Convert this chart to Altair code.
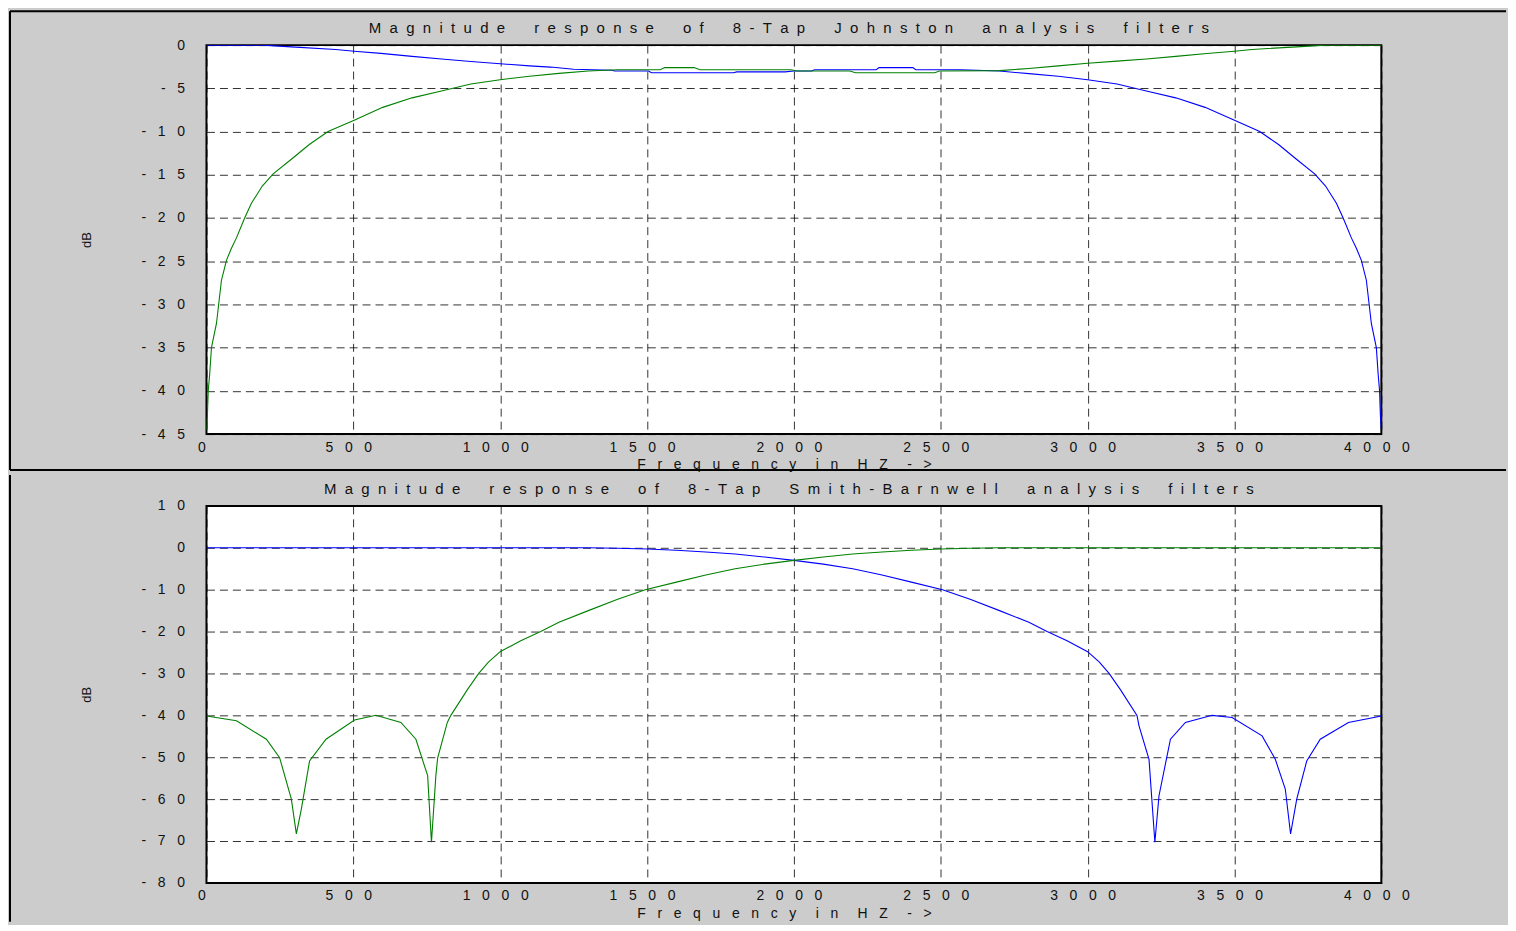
import altair as alt
import pandas as pd

# ---------------- data ----------------
# Top panel: 8-tap Johnston filters (dB)
top_lo_f = [0, 190, 289, 440, 503, 594, 700, 800, 900, 1000, 1100, 1171, 1250, 1380, 1390,
            1505, 1515, 1795, 1805, 1970, 2000, 2060, 2070, 2280, 2290, 2405, 2415, 2570,
            2700, 2800, 2900, 3000, 3100, 3200, 3300, 3400, 3500, 3586, 3650, 3711, 3773,
            3810, 3847, 3870, 3898, 3915, 3932, 3949, 3966, 3983, 3989, 3994, 3997, 4000]
top_lo_db = [0, 0, -0.2, -0.5, -0.7, -0.96, -1.3, -1.6, -1.9, -2.15, -2.4, -2.54, -2.8, -2.9, -3.0,
             -3.0, -3.2, -3.2, -3.1, -3.1, -3.0, -3.0, -2.85, -2.85, -2.6, -2.6, -2.85, -2.85,
             -3.0, -3.3, -3.6, -4.0, -4.5, -5.3, -6.1, -7.2, -8.7, -10.0, -11.5, -13.2, -14.9,
             -16.3, -18.3, -20.0, -22.3, -23.5, -24.9, -27.2, -32.2, -35.0, -38.0, -40.0, -43.0, -44.5]

top_hi_f = [0, 3, 6, 11, 17, 34, 51, 60, 68, 85, 102, 130, 153, 190, 227, 289, 350, 414, 503,
            600, 700, 800, 900, 1000, 1100, 1200, 1300, 1400, 1545, 1560, 1660, 1680, 1990,
            2010, 2190, 2210, 2480, 2495, 2700, 2800, 2900, 3000, 3100, 3200, 3300, 3406,
            3500, 3560, 3711, 3810, 4000]
top_hi_db = [-44.5, -43.0, -40.0, -38.0, -35.0, -32.2, -27.2, -26.0, -24.9, -23.5, -22.3, -20.0,
             -18.3, -16.3, -14.9, -13.2, -11.5, -10.0, -8.7, -7.2, -6.1, -5.3, -4.5, -4.0, -3.6,
             -3.27, -3.0, -2.85, -2.85, -2.6, -2.6, -2.85, -2.85, -3.0, -3.0, -3.2, -3.2, -3.0,
             -2.95, -2.7, -2.4, -2.1, -1.85, -1.6, -1.3, -0.96, -0.7, -0.5, -0.2, 0, 0]

# Bottom panel: 8-tap Smith-Barnwell filters (dB)
bot_lo_f = [0, 1300, 1400, 1500, 1600, 1700, 1800, 1900, 2000, 2100, 2200, 2300, 2400, 2506,
            2600, 2700, 2800, 2862, 2930, 3000, 3040, 3073, 3111, 3168, 3175, 3209, 3229, 3243,
            3282, 3333, 3424, 3492, 3594, 3639, 3673, 3691, 3712, 3746, 3792, 3888, 3996, 4000]
bot_lo_db = [0, 0, -0.1, -0.3, -0.6, -1.0, -1.5, -2.2, -3.0, -3.9, -5.0, -6.5, -8.2, -10.0,
             -12.3, -15.0, -17.8, -20.0, -22.2, -24.8, -27.3, -30.0, -33.8, -40.0, -42.5, -50.5,
             -70.3, -59.2, -45.7, -41.7, -40.0, -40.5, -44.9, -50.5, -57.6, -68.3, -60.0, -50.9,
             -45.7, -41.7, -40.2, -40.0]

bot_hi_f = [0, 6, 102, 204, 249, 289, 306, 323, 351, 407, 504, 577, 662, 713, 753, 766, 781,
            787, 820, 832, 889, 927, 960, 1000, 1070, 1138, 1200, 1300, 1400, 1494, 1600, 1700,
            1800, 1900, 2000, 2100, 2200, 2300, 2400, 2500, 2600, 2700, 4000]
bot_hi_db = [-40.0, -40.2, -41.3, -45.7, -50.1, -60.0, -68.3, -62.4, -50.9, -45.7, -41.1, -40.0,
             -41.7, -45.7, -54.4, -70.3, -54.4, -50.2, -41.7, -40.0, -33.8, -30.0, -27.3, -24.8,
             -22.2, -20.0, -17.8, -15.0, -12.3, -10.0, -8.2, -6.5, -5.0, -3.9, -3.0, -2.2, -1.5,
             -1.0, -0.6, -0.3, -0.1, 0, 0]

x_ticks = [0, 500, 1000, 1500, 2000, 2500, 3000, 3500, 4000]
top_y_ticks = [0, -5, -10, -15, -20, -25, -30, -35, -40, -45]
bot_y_ticks = [10, 0, -10, -20, -30, -40, -50, -60, -70, -80]

top_title = "Magnitude response of 8-Tap Johnston analysis filters"
bot_title = "Magnitude response of 8-Tap Smith-Barnwell analysis filters"
x_title = "Frequency in HZ ->"
y_title = "dB"

# ---------------- helpers ----------------
NB = "\u00a0"
FONT = "Liberation Sans"


def spaced(text, ch=NB * 2, word=NB * 5):
    return word.join(ch.join(w) for w in text.split(" "))


LABEL_EXPR = "join(split(toString(datum.value), ''), '" + NB * 3 + "')"

W = 1178
LEFT = 197      # plot left edge relative to chart origin
RIGHT_EXT = 1303


def panel(lo_f, lo_db, hi_f, hi_db, ydomain, yticks, title, h, first):
    df = pd.concat([
        pd.DataFrame({"f": lo_f, "db": lo_db, "s": "lo"}),
        pd.DataFrame({"f": hi_f, "db": hi_db, "s": "hi"}),
    ], ignore_index=True)

    lines = alt.Chart(df).mark_line(strokeWidth=1.1, clip=True).encode(
        x=alt.X("f:Q",
                scale=alt.Scale(domain=[0, 4000], nice=False, zero=False),
                axis=alt.Axis(values=x_ticks, labelExpr=LABEL_EXPR, labelFont=FONT,
                              labelFontSize=14, labelColor="#111", labelPadding=6,
                              labelOffset=-5,
                              labelFlush=False, ticks=False, tickSize=0, domain=False,
                              grid=True, gridDash=[8, 5], gridColor="#000",
                              gridOpacity=0.8, gridWidth=1,
                              title=spaced(x_title, NB * 3, NB * 5), titleFont=FONT,
                              titleFontSize=14, titleFontWeight="normal",
                              titleColor="#111", titlePadding=4, titleX=579)),
        y=alt.Y("db:Q",
                scale=alt.Scale(domain=ydomain, nice=False, zero=False),
                axis=alt.Axis(values=yticks, labelExpr=LABEL_EXPR, labelFont=FONT,
                              labelFontSize=14, labelColor="#111", labelPadding=22,
                              labelFlush=False, ticks=False, tickSize=0, domain=False,
                              grid=True, gridDash=[8, 5], gridColor="#000",
                              gridOpacity=0.8, gridWidth=1,
                              title=y_title, titleFont=FONT, titleFontSize=13,
                              titleFontWeight="normal", titleColor="#111",
                              titlePadding=48)),
        color=alt.Color("s:N", scale=alt.Scale(domain=["lo", "hi"],
                                               range=["#0000FF", "#008000"]),
                        legend=None),
    )

    one = alt.Chart(pd.DataFrame({"k": [0]}))
    layers = [lines]
    top = 34 if first else 31
    bottom_y = h + 36 if first else h + 39
    # left border line
    layers.append(one.mark_rule(color="black", strokeWidth=2).encode(
        x=alt.value(-LEFT), y=alt.value(-top), y2=alt.value(bottom_y)))
    if first:
        # top border line
        layers.append(one.mark_rule(color="black", strokeWidth=2).encode(
            x=alt.value(-LEFT), x2=alt.value(RIGHT_EXT), y=alt.value(-top)))
        # separator line between the two panels
        layers.append(one.mark_rule(color="black", strokeWidth=2).encode(
            x=alt.value(-LEFT), x2=alt.value(RIGHT_EXT), y=alt.value(h + 36)))
    else:
        layers.append(one.mark_rule(color="black", strokeWidth=0, opacity=0).encode(
            x=alt.value(-LEFT), x2=alt.value(RIGHT_EXT), y=alt.value(-top)))
    # panel title as text
    layers.append(one.mark_text(font=FONT, fontSize=15, color="#111",
                                align="center", baseline="middle").encode(
        x=alt.value(W / 2 - 5), y=alt.value(-17),
        text=alt.value(spaced(title, NB * 2, NB * 7))))

    return alt.layer(*layers).properties(width=W, height=h)


p1 = panel(top_lo_f, top_lo_db, top_hi_f, top_hi_db, [-45, 0], top_y_ticks,
           top_title, 390, True)
p2 = panel(bot_lo_f, bot_lo_db, bot_hi_f, bot_hi_db, [-80, 10], bot_y_ticks,
           bot_title, 378, False)

chart = alt.vconcat(p1, p2, spacing=0).properties(
    padding=0, background="#CCCCCC"
).configure_view(fill="white", stroke="black", strokeWidth=2)

chart.save("out.html", embed_options={"renderer": "svg", "actions": False})
